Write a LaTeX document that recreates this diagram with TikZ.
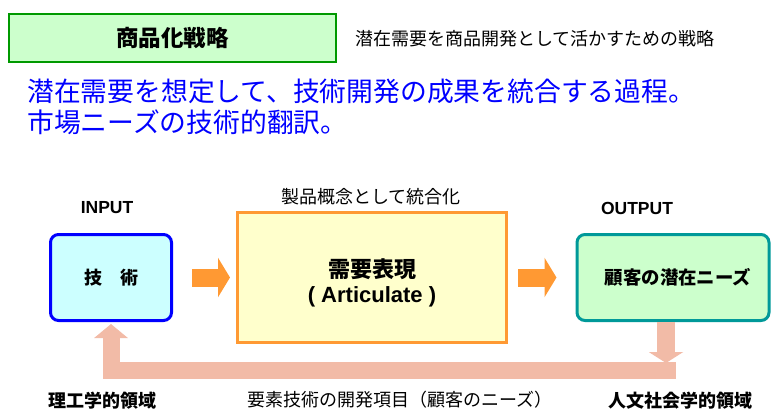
\documentclass[tikz,border=0pt]{standalone}
\usepackage{fontspec}
\setmainfont{Noto Sans CJK JP}
\newfontfamily\lat{Liberation Sans}
\usetikzlibrary{arrows.meta}
\definecolor{topgreen}{RGB}{0,153,0}
\definecolor{lightgreen}{RGB}{204,255,204}
\definecolor{lightcyan}{RGB}{204,255,255}
\definecolor{lightyellow}{RGB}{255,255,204}
\definecolor{orangeA}{RGB}{255,153,51}
\definecolor{tealB}{RGB}{0,153,153}
\definecolor{pinkA}{RGB}{242,187,167}
\definecolor{blueT}{RGB}{0,0,255}
\tikzset{
  txt/.style={inner sep=0pt, font=\fontsize{18}{21}\selectfont},
  btxt/.style={inner sep=0pt, font=\fontsize{18}{21}\selectfont\bfseries},
  rbox/.style={draw, line width=3pt, rounded corners=8pt, minimum width=121pt, minimum height=86pt, inner sep=0pt},
  orangearrow/.style={draw=orangeA, line width=18pt, -{Triangle[length=12pt,width=39pt]}},
  pinkline/.style={draw=pinkA, line width=17pt, line join=miter},
}
\begin{document}
\begin{tikzpicture}[x=1pt,y=-1pt]
\useasboundingbox (0,0) rectangle (771,410);
% top
\node[draw=topgreen, fill=lightgreen, line width=2pt, minimum width=327pt, minimum height=48pt, inner sep=0pt,
      font=\fontsize{22.5}{26}\selectfont\bfseries] (title) at (172.5,38) {商品化戦略};
\node[txt, anchor=west] (sub) at (355,38.5) {潜在需要を商品開発として活かすための戦略};
\node[inner sep=0pt, anchor=west, align=left, text=blueT, font=\fontsize{26.8}{31}\selectfont] (desc) at (27,106.5)
  {潜在需要を想定して、技術開発の成果を統合する過程。\\市場ニーズの技術的翻訳。};
% labels
\node[inner sep=0pt, font=\fontsize{17.5}{20}\selectfont\lat\bfseries] (inlab) at (107,208) {INPUT};
\node[inner sep=0pt, font=\fontsize{17.5}{20}\selectfont\lat\bfseries] (outlab) at (637,208) {OUTPUT};
\node[txt] (concept) at (371,197) {製品概念として統合化};
% boxes
\node[rbox, draw=blueT, fill=lightcyan, font=\fontsize{18}{21}\selectfont\bfseries] (tech) at (111,277.5) {技　術};
\node[draw=orangeA, fill=lightyellow, line width=3pt, minimum width=269pt, minimum height=130pt, inner sep=0pt, align=center,
      font=\fontsize{22}{25}\selectfont\bfseries]
  (need) at (372,277.5) {\rule{0pt}{29pt}需要表現\\{\lat ( Articulate )}};
\node[rbox, draw=tealB, fill=lightgreen, minimum width=192pt, font=\fontsize{18.4}{21}\selectfont\bfseries] (out) at (673,277.5) {\hspace*{10pt}顧客の潜在ニーズ};
% orange arrows
\draw[orangearrow, shorten <=19pt, shorten >=6pt] (tech) -- (need);
\draw[orangearrow, shorten <=10pt, shorten >=19pt] (need) -- (out);
% pink feedback
\coordinate (fbR) at (676,370.5);
\coordinate (fbL) at (111,370.5);
\coordinate (fbD) at (666,363);
\draw[pinkline, -{Triangle[length=14pt,width=33pt]}, shorten >=2pt] (fbR) -- (fbL) -- (tech.south);
\draw[pinkline, line width=18pt, -{Triangle[length=11pt,width=34pt]}] (out.south -| fbD) -- (fbD);
% bottom labels
\node[btxt] (left) at (102,401) {理工学的領域};
\node[txt] (mid) at (400,400) {要素技術の開発項目（顧客のニーズ）};
\node[btxt] (right) at (680,401) {人文社会学的領域};
\end{tikzpicture}
\end{document}
